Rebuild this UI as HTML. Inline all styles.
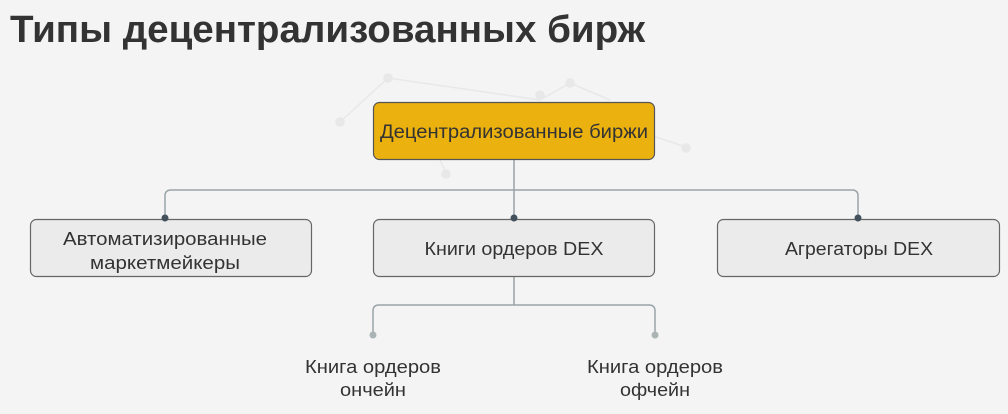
<!DOCTYPE html>
<html><head><meta charset="utf-8"><style>
html,body{margin:0;padding:0;background:#f4f4f4;}
svg{display:block;font-family:"Liberation Sans","DejaVu Sans",sans-serif;}
</style></head><body>
<svg width="1008" height="414" viewBox="0 0 1008 414" xmlns="http://www.w3.org/2000/svg">
<rect width="1008" height="414" fill="#f4f4f4"/>
<g stroke="#e8e8e8" stroke-width="1.5" fill="#e8e8e8">
<line x1="340" y1="122" x2="388" y2="78"/><line x1="388" y1="78" x2="540" y2="100"/>
<line x1="540" y1="100" x2="570" y2="83"/><line x1="570" y1="83" x2="610" y2="100"/>
<line x1="650" y1="135" x2="686" y2="147"/><line x1="440" y1="160" x2="446" y2="173"/>
<circle cx="340" cy="122" r="4"/><circle cx="388" cy="78" r="4"/><circle cx="540" cy="95" r="4"/>
<circle cx="570" cy="83" r="4"/><circle cx="686" cy="148" r="4"/><circle cx="446" cy="174" r="4"/>
</g>
<text x="10" y="42" font-size="38" font-weight="bold" fill="#333" textLength="635" lengthAdjust="spacingAndGlyphs">Типы децентрализованных бирж</text>
<g fill="none" stroke="#9aa3a8" stroke-width="1.5">
<path d="M514 160 V218"/>
<path d="M165 218 V196 Q165 190 171 190 H852 Q858 190 858 196 V218"/>
<path d="M514 276 V305"/>
<path d="M373 335 V311 Q373 305 379 305 H649 Q655 305 655 311 V335"/>
</g>
<rect x="373.5" y="102.5" width="281" height="57" rx="6" fill="#ebb10e" stroke="#555" stroke-width="1.2"/>
<text x="514" y="138" font-size="19" fill="#333" text-anchor="middle" textLength="268" lengthAdjust="spacingAndGlyphs">Децентрализованные биржи</text>
<g fill="#ebebeb" stroke="#666" stroke-width="1.2">
<rect x="30.5" y="219.5" width="281" height="57" rx="6"/>
<rect x="373.5" y="219.5" width="281" height="57" rx="6"/>
<rect x="717.5" y="219.5" width="282" height="57" rx="6"/>
</g>
<g fill="#44505a"><circle cx="165" cy="218" r="3.5"/><circle cx="514" cy="218" r="3.5"/><circle cx="858" cy="218" r="3.5"/></g>
<g fill="#aab4b4"><circle cx="373" cy="335" r="3.5"/><circle cx="655" cy="335" r="3.5"/></g>
<g font-size="18" fill="#333" text-anchor="middle" lengthAdjust="spacingAndGlyphs">
<text x="165" y="245" textLength="204" lengthAdjust="spacingAndGlyphs">Автоматизированные</text>
<text x="165" y="269" textLength="150" lengthAdjust="spacingAndGlyphs">маркетмейкеры</text>
<text x="514" y="255" textLength="179" lengthAdjust="spacingAndGlyphs">Книги ордеров DEX</text>
<text x="859" y="255" textLength="148" lengthAdjust="spacingAndGlyphs">Агрегаторы DEX</text>
<text x="373" y="373" textLength="136" lengthAdjust="spacingAndGlyphs">Книга ордеров</text>
<text x="373" y="396" textLength="66" lengthAdjust="spacingAndGlyphs">ончейн</text>
<text x="655" y="373" textLength="136" lengthAdjust="spacingAndGlyphs">Книга ордеров</text>
<text x="655" y="396" textLength="70" lengthAdjust="spacingAndGlyphs">офчейн</text>
</g>
</svg>
</body></html>
